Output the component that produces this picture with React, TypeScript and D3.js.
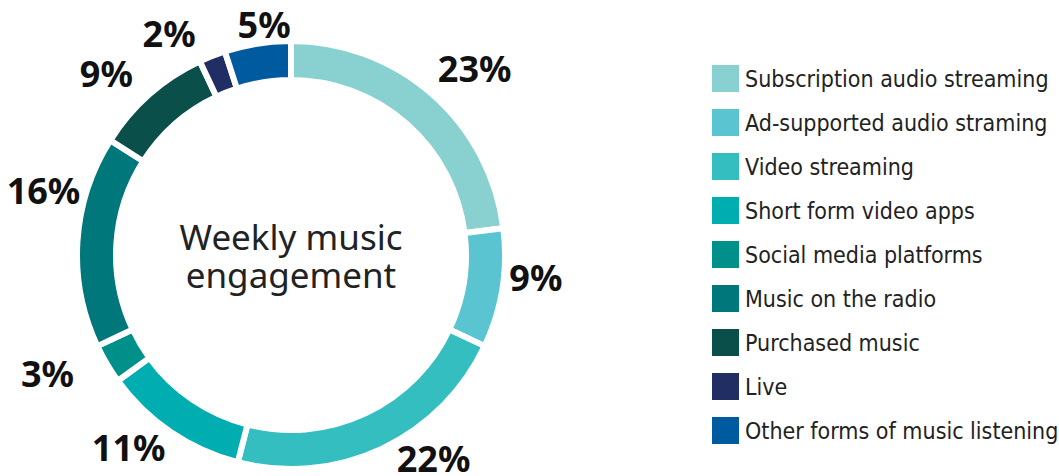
import React, { useEffect, useRef } from 'react';
import * as d3 from 'd3';

const categories = [
  'Subscription audio streaming',
  'Ad-supported audio straming',
  'Video streaming',
  'Short form video apps',
  'Social media platforms',
  'Music on the radio',
  'Purchased music',
  'Live',
  'Other forms of music listening',
];
const shares = [23, 9, 22, 11, 3, 16, 9, 2, 5];
const colors = ['#88d1d0', '#5ac5d0', '#34bec0', '#00aeb1', '#00908a', '#00777b', '#0b4f4a', '#202e63', '#005aa0'];
const centerLines = ['Weekly music', 'engagement'];

// hand nudges so the % labels sit where the original placed them
const labelNudge: [number, number][] = [
  [15, 5], [-7, -17], [34, -27], [-19, -18], [-24, -11], [7, -48], [-16, 10], [-28, 16], [13, 22],
];

const App: React.FC = () => {
  const svgRef = useRef<SVGSVGElement | null>(null);

  useEffect(() => {
    if (!svgRef.current) return;
    const width = 1059;
    const height = 476;
    const root = d3.select(svgRef.current);
    root.selectAll('*').remove();
    root.attr('width', width).attr('height', height);

    const data = categories.map((c, i) => ({ label: c, value: shares[i], color: colors[i] }));

    const cx = 291;
    const cy = 255;
    const outer = 214;
    const inner = 175;

    const g = root.append('g').attr('transform', `translate(${cx},${cy})`);

    const pie = d3.pie<any>().sort(null).value(d => d.value);
    const arcs = pie(data);
    const arc = d3.arc<any>().innerRadius(inner).outerRadius(outer);
    const labelArc = d3.arc<any>().innerRadius(255).outerRadius(255);

    g.selectAll('path.slice')
      .data(arcs)
      .enter()
      .append('path')
      .attr('class', 'slice')
      .attr('d', arc)
      .attr('fill', d => d.data.color)
      .attr('stroke', 'white')
      .style('stroke-width', '6px');

    g.selectAll('text.pct')
      .data(arcs)
      .enter()
      .append('text')
      .attr('class', 'pct')
      .attr('transform', (d, i) => {
        const [x, y] = labelArc.centroid(d);
        return `translate(${x + labelNudge[i][0]},${y + labelNudge[i][1]})`;
      })
      .attr('text-anchor', 'middle')
      .attr('dy', '0.36em')
      .style('font-family', '"Noto Sans", sans-serif')
      .style('font-weight', '700')
      .style('font-size', '36px')
      .style('fill', '#111')
      .text(d => `${d.data.value}%`);

    // centre title
    centerLines.forEach((line, i) => {
      g.append('text')
        .attr('text-anchor', 'middle')
        .attr('y', -5 + i * 38)
        .style('font-family', '"Noto Sans", sans-serif')
        .style('font-size', '35px')
        .style('fill', '#222')
        .text(line);
    });

    // legend
    const legend = root.append('g').attr('transform', 'translate(712,65)');
    data.forEach((d, i) => {
      const row = legend.append('g').attr('transform', `translate(0,${i * 44})`);
      row.append('rect').attr('width', 27).attr('height', 27).attr('fill', d.color);
      row.append('text')
        .attr('x', 33)
        .attr('y', 22)
        .style('font-family', '"DejaVu Sans Condensed", "DejaVu Sans", sans-serif')
        .style('font-size', '23px')
        .style('fill', '#222')
        .text(d.label);
    });
  }, []);

  return <svg ref={svgRef} style={{ display: 'block', position: 'absolute', left: 0, top: 0 }}></svg>;
};

export default App;
